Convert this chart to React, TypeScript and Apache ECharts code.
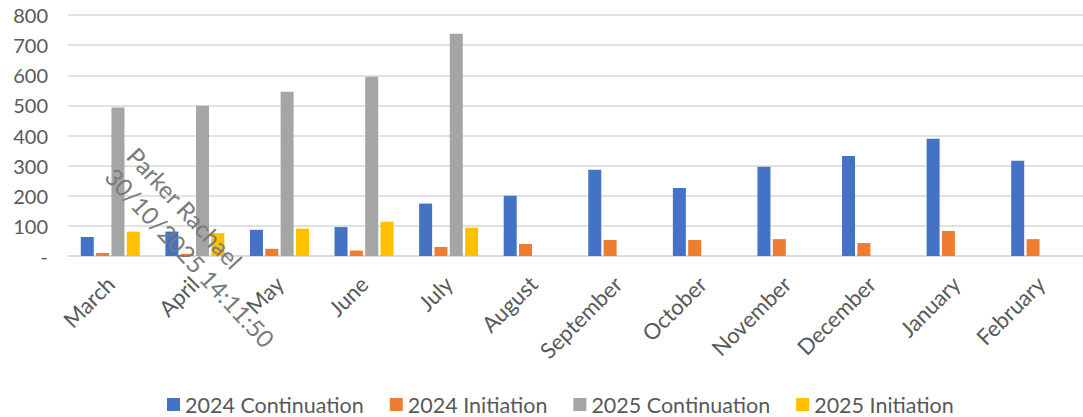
import React, { useEffect, useRef } from "react";
import * as echarts from "echarts";

const months = [
  "March", "April", "May", "June", "July", "August",
  "September", "October", "November", "December", "January", "February",
];

const continuation2024 = [63, 81, 87, 96, 174, 200, 286, 226, 296, 332, 389, 316];
const initiation2024 = [10, 7, 24, 18, 30, 40, 53, 53, 56, 43, 83, 56];
const continuation2025 = [493, 499, 545, 595, 738, null, null, null, null, null, null, null];
const initiation2025 = [81, 76, 91, 114, 94, null, null, null, null, null, null, null];

const seriesNames = ["2024 Continuation", "2024 Initiation", "2025 Continuation", "2025 Initiation"];
const seriesColors = ["#4472C4", "#ED7D31", "#A5A5A5", "#FFC000"];

const yTicks = { min: 0, max: 800, interval: 100 };

const stampLines = ["Parker Rachael", "30/10/2025 14:11:50"];

const FONT = "Lato, 'Open Sans', sans-serif";

export default function App() {
  const ref = useRef<HTMLDivElement>(null);

  useEffect(() => {
    if (!ref.current) return;
    const chart = echarts.init(ref.current, null, { renderer: "svg" });
    const values = [continuation2024, initiation2024, continuation2025, initiation2025];

    chart.setOption({
      animation: false,
      textStyle: { fontFamily: FONT },
      grid: { left: 68, top: 15, width: 1025, height: 241, containLabel: false },
      legend: {
        top: 392,
        left: 167,
        padding: 0,
        itemWidth: 13,
        itemHeight: 13,
        itemGap: 26,
        icon: "rect",
        textStyle: { fontSize: 21.5, lineHeight: 25, color: "#595959", fontFamily: FONT },
        data: seriesNames,
      },
      xAxis: {
        type: "category",
        data: months,
        axisLine: { lineStyle: { color: "#d9d9d9", width: 1.5 } },
        axisTick: { show: false },
        axisLabel: {
          rotate: 45,
          interval: 0,
          margin: 24,
          fontSize: 22,
          color: "#595959",
          fontFamily: FONT,
        },
      },
      yAxis: {
        type: "value",
        min: yTicks.min,
        max: yTicks.max,
        interval: yTicks.interval,
        axisLine: { show: false },
        axisTick: { show: false },
        splitLine: { lineStyle: { color: "#d9d9d9", width: 1.5 } },
        axisLabel: {
          margin: 20,
          fontSize: 20,
          color: "#595959",
          fontFamily: FONT,
          formatter: (v: number) => (v === 0 ? "-" : String(v)),
        },
      },
      series: seriesNames.map((name, i) => ({
        name,
        type: "bar",
        data: values[i],
        barWidth: 13,
        barGap: "18%",
        itemStyle: { color: seriesColors[i] },
      })),
      graphic: [
        {
          type: "text",
          x: 143,
          y: 141,
          rotation: (-47 * Math.PI) / 180,
          z: 100,
          style: {
            text: stampLines.join("\n"),
            fontSize: 24,
            lineHeight: 30,
            fontFamily: FONT,
            fill: "#7a7a7a",
            align: "left",
            verticalAlign: "top",
          },
        },
      ],
    });

    return () => chart.dispose();
  }, []);

  return (
    <div
      ref={ref}
      style={{ position: "fixed", left: 0, top: 0, width: 1083, height: 417, background: "#fff" }}
    />
  );
}
